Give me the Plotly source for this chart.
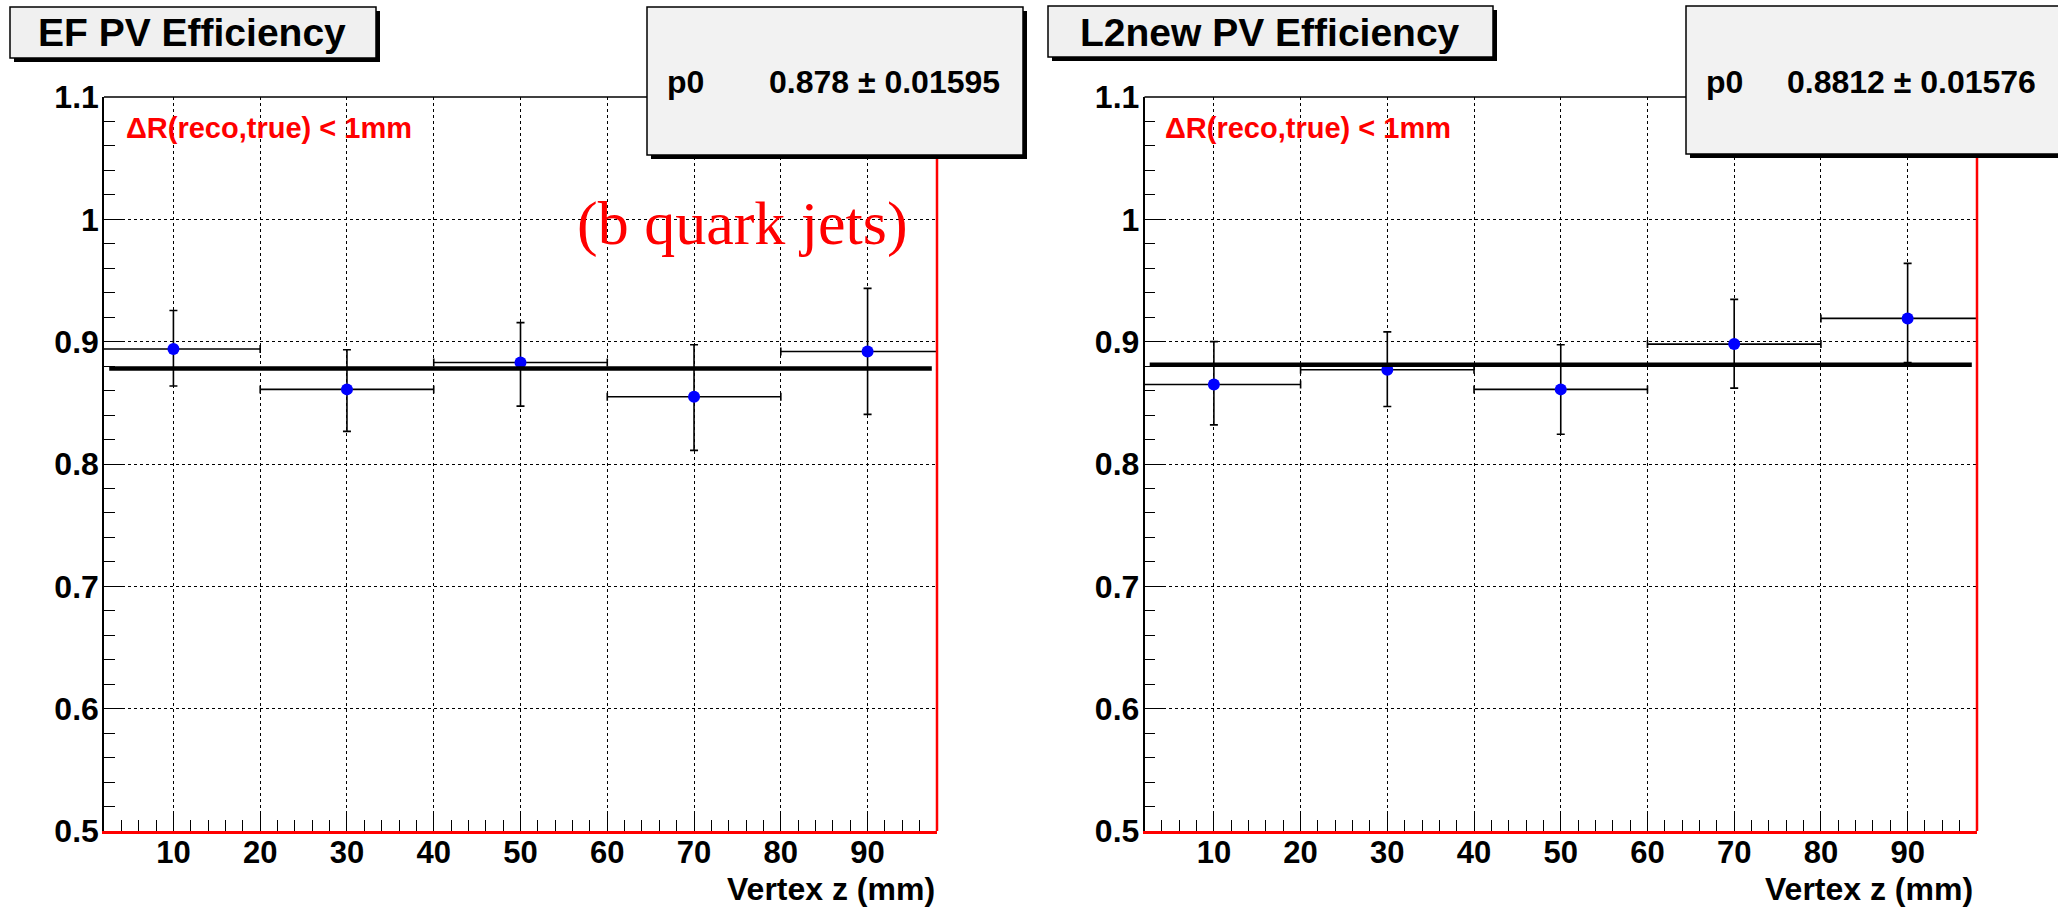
import plotly.graph_objects as go

W, H = 2058, 910

# ---------------- data ----------------
bin_centers = [10, 30, 50, 70, 90]
bin_halfwidth = [10, 10, 10, 10, 10]

ef_eff = [0.894, 0.861, 0.883, 0.855, 0.892]
ef_err_up = [0.0315, 0.0324, 0.0326, 0.0425, 0.0516]
ef_err_dn = [0.0302, 0.0343, 0.0357, 0.0439, 0.0514]
ef_p0 = 0.878
ef_p0_err = 0.01595

l2_eff = [0.865, 0.877, 0.861, 0.898, 0.919]
l2_err_up = [0.035, 0.031, 0.0365, 0.0366, 0.045]
l2_err_dn = [0.033, 0.030, 0.0367, 0.036, 0.036]
l2_p0 = 0.8812
l2_p0_err = 0.01576

fit_x = [2.6, 97.4]

x_tickvals = [10, 20, 30, 40, 50, 60, 70, 80, 90]
x_ticktext = ["10", "20", "30", "40", "50", "60", "70", "80", "90"]
y_tickvals = [0.5, 0.6, 0.7, 0.8, 0.9, 1.0, 1.1]
y_ticktext = ["0.5", "0.6", "0.7", "0.8", "0.9", "1", "1.1"]

titles = ["EF PV Efficiency", "L2new PV Efficiency"]
stats_vals = [f"{ef_p0:g} \u00b1 {ef_p0_err:g}", f"{l2_p0:g} \u00b1 {l2_p0_err:g}"]
cut_label = "\u0394R(reco,true) < 1mm"
sample_label = "(b quark jets)"
x_title = "Vertex z (mm)"

# ---------------- helpers ----------------
def px(x):
    return x / W

def py(y):
    return 1 - y / H

SANS = "Liberation Sans, Arial, Helvetica, sans-serif"
SERIF = "Liberation Serif, Times New Roman, serif"

fig = go.Figure()

panels = [
    dict(eff=ef_eff, up=ef_err_up, dn=ef_err_dn, p0=ef_p0, xa="x", ya="y",
         dom=(104, 937)),
    dict(eff=l2_eff, up=l2_err_up, dn=l2_err_dn, p0=l2_p0, xa="x2", ya="y2",
         dom=(1144.5, 1977)),
]

for p in panels:
    fig.add_trace(go.Scatter(
        x=bin_centers, y=p["eff"], mode="markers",
        marker=dict(color="#0000ff", size=12, symbol="circle"),
        error_x=dict(type="data", array=bin_halfwidth, symmetric=True,
                     color="black", thickness=1.6, width=4),
        error_y=dict(type="data", array=p["up"], arrayminus=p["dn"],
                     symmetric=False, color="black", thickness=1.6, width=4),
        xaxis=p["xa"], yaxis=p["ya"], showlegend=False, cliponaxis=True,
    ))
    fig.add_trace(go.Scatter(
        x=fit_x, y=[p["p0"], p["p0"]], mode="lines",
        line=dict(color="black", width=4.5),
        xaxis=p["xa"], yaxis=p["ya"], showlegend=False,
    ))

top_px, bot_px = 97, 831
ydom = [py(bot_px), py(top_px)]

axis_common_x = dict(
    range=[2, 98], showline=True, linecolor="#ff0000", linewidth=3,
    ticks="inside", ticklen=20, tickwidth=1.3, tickcolor="black",
    tickvals=x_tickvals, ticktext=x_ticktext,
    tickfont=dict(family=SANS, size=31, color="black", weight="bold"),
    showgrid=True, gridcolor="black", griddash="dot", gridwidth=1,
    minor=dict(dtick=2, tick0=0, ticks="inside", ticklen=11, tickwidth=1.3,
               tickcolor="black", showgrid=False),
    zeroline=False, ticklabelstandoff=-8, automargin=False,
)
axis_common_y = dict(
    range=[0.5, 1.1], showline=True, linecolor="black", linewidth=1.5,
    ticks="inside", ticklen=20, tickwidth=1.3, tickcolor="black",
    tickvals=y_tickvals, ticktext=y_ticktext,
    tickfont=dict(family=SANS, size=32, color="black", weight="bold"),
    showgrid=True, gridcolor="black", griddash="dot", gridwidth=1,
    minor=dict(dtick=0.02, tick0=0.5, ticks="inside", ticklen=11, tickwidth=1.3,
               tickcolor="black", showgrid=False),
    zeroline=False, ticklabelstandoff=-3, automargin=False,
)

fig.update_layout(
    width=W, height=H, margin=dict(l=0, r=0, t=0, b=0, pad=0, autoexpand=False),
    paper_bgcolor="white", plot_bgcolor="white",
    xaxis=dict(domain=[px(104), px(937)], anchor="y", **axis_common_x),
    yaxis=dict(domain=ydom, anchor="x", **axis_common_y),
    xaxis2=dict(domain=[px(1144.5), px(1977)], anchor="y2", **axis_common_x),
    yaxis2=dict(domain=ydom, anchor="x2", **axis_common_y),
)

shapes = []
annotations = []

def box(x0, y0, x1, y1, fill):
    # shadow
    shapes.append(dict(type="rect", xref="paper", yref="paper",
                       x0=px(x0 + 4), x1=px(x1 + 4), y0=py(y1 + 4), y1=py(y0 + 4),
                       fillcolor="black", line=dict(width=0), layer="above"))
    shapes.append(dict(type="rect", xref="paper", yref="paper",
                       x0=px(x0), x1=px(x1), y0=py(y1), y1=py(y0),
                       fillcolor=fill, line=dict(color="black", width=1.5),
                       layer="above"))

for i, p in enumerate(panels):
    xl, xr = p["dom"]
    # top frame (black) and right frame (red)
    shapes.append(dict(type="line", xref="paper", yref="paper",
                       x0=px(xl), x1=px(xr), y0=py(top_px), y1=py(top_px),
                       line=dict(color="black", width=1.5), layer="above"))
    shapes.append(dict(type="line", xref="paper", yref="paper",
                       x0=px(xr), x1=px(xr), y0=py(bot_px), y1=py(top_px),
                       line=dict(color="#ff0000", width=2.5), layer="above"))

# title boxes
box(10, 7, 376, 58, "#f0f0f0")
box(1048, 6, 1493, 57, "#f0f0f0")
annotations.append(dict(x=px(192), y=py(33), xref="paper", yref="paper",
                        text=f"<b>{titles[0]}</b>", showarrow=False,
                        xanchor="center", yanchor="middle",
                        font=dict(family=SANS, size=39, color="black")))
annotations.append(dict(x=px(1270), y=py(33), xref="paper", yref="paper",
                        text=f"<b>{titles[1]}</b>", showarrow=False,
                        xanchor="center", yanchor="middle",
                        font=dict(family=SANS, size=39, color="black")))

# stats boxes
box(647, 7, 1023, 155, "#f2f2f2")
box(1686, 6, 2080, 154, "#f2f2f2")
stat_pos = [(665, 1002, "right"), (1704, 1785, "left")]
for i, (xp0, xv, anc) in enumerate(stat_pos):
    annotations.append(dict(x=px(xp0), y=py(82), xref="paper", yref="paper",
                            text="<b>p0</b>", showarrow=False,
                            xanchor="left", yanchor="middle",
                            font=dict(family=SANS, size=32, color="black")))
    annotations.append(dict(x=px(xv), y=py(82), xref="paper", yref="paper",
                            text=f"<b>{stats_vals[i]}</b>", showarrow=False,
                            xanchor=anc, yanchor="middle",
                            font=dict(family=SANS, size=32, color="black")))

# red cut labels
for xl in (124, 1163):
    annotations.append(dict(x=px(xl), y=py(128), xref="paper", yref="paper",
                            text=f"<b>{cut_label}</b>", showarrow=False,
                            xanchor="left", yanchor="middle",
                            font=dict(family=SANS, size=29, color="#ff0000")))

# sample label
annotations.append(dict(x=px(742), y=py(223), xref="paper", yref="paper",
                        text=sample_label, showarrow=False,
                        xanchor="center", yanchor="middle",
                        font=dict(family=SERIF, size=62, color="#ff0000")))

# axis titles
for xr in (937, 1975):
    annotations.append(dict(x=px(xr), y=py(889), xref="paper", yref="paper",
                            text=f"<b>{x_title}</b>", showarrow=False,
                            xanchor="right", yanchor="middle",
                            font=dict(family=SANS, size=32, color="black")))

fig.update_layout(shapes=shapes, annotations=annotations)
fig.write_html("out.html")
